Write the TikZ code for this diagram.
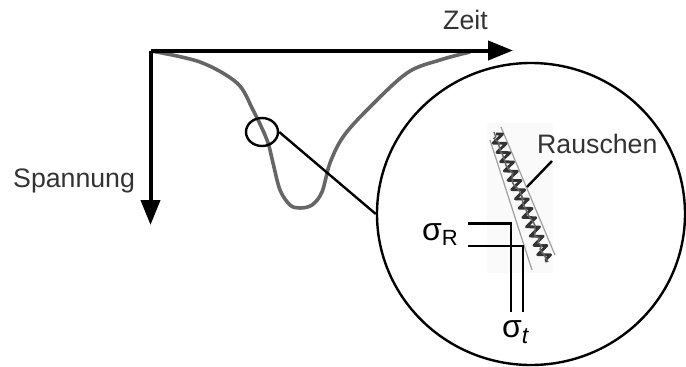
\documentclass[tikz,border=0pt]{standalone}
\usepackage{fontspec}
\setmainfont{Liberation Sans}
\usetikzlibrary{arrows.meta,shapes.geometric,decorations.pathmorphing}
\definecolor{txt}{HTML}{333333}
\definecolor{curvegray}{HTML}{666666}
\tikzset{
  axis/.style={line width=4pt,-{Triangle[length=25pt,width=19pt]}},
  lbl/.style={inner sep=0pt,anchor=base west,text=txt,font=\fontsize{26.7}{30}\selectfont},
  sig/.style={inner sep=0pt,anchor=base west,text=black},
  thin/.style={line width=2.4pt},
}
\begin{document}
\begin{tikzpicture}[x=1pt,y=-1pt]
\useasboundingbox (0,0) rectangle (686,367);
% axes
\coordinate (o) at (150.5,50.5);
\coordinate (xend) at (513,50.5);
\coordinate (yend) at (150.5,225);
% curve
\draw[curvegray,line width=3.6pt,line join=round] plot[smooth,tension=0.55] coordinates
 {(151,51) (200,62) (237,83) (253,110) (267,140) (273,163) (280,190) (290,205) (300,208) (312,205) (322,192) (330,163) (343,137) (367,110) (407,73) (440,60) (470,52)};
\draw[axis] (o) -- (xend);
\draw[axis] (o) -- (yend);
\node[lbl] (zeit) at (443,29) {Zeit};
\node[lbl] (spannung) at (13,187) {Spannung};
% lens and magnified view
\node[draw,thin,ellipse,minimum width=32pt,minimum height=28pt,inner sep=0pt] (lens) at (262,132) {};
\node[draw,thin,ellipse,minimum width=308pt,minimum height=302pt,inner sep=0pt] (zoom) at (531,214) {};
\draw[thin] (lens.east) -- (zoom.west);
% noise strip
\fill[black!2] (487,123) rectangle (553,273);
\draw[gray!75,line width=1.2pt] (490,140) -- (532,270);
\draw[gray!75,line width=1.2pt] (501,127) -- (555,255);
\draw[black!80,line width=2.8pt,line join=round,decorate,decoration={zigzag,segment length=10pt,amplitude=6pt}] (496,134) -- (547,262);
\draw[black!60,line width=1.4pt,decorate,decoration={random steps,segment length=4pt,amplitude=2.5pt}] (494,132) -- (548,262);
\node[lbl] (rauschen) at (537,153) {Rauschen};
\coordinate (rp) at (527,187);
\draw[thin] (552,161) -- (rp);
% sigma markers
\coordinate (a1) at (468,223.5);
\coordinate (a2) at (511,223.5);
\coordinate (a3) at (511,312);
\coordinate (b1) at (468,246);
\coordinate (b2) at (523,246);
\coordinate (b3) at (523,312);
\draw[thin] (a1) -- (a2) -- (a3);
\draw[thin] (b1) -- (b2) -- (b3);
\node[sig] (sigR) at (422,240) {{\fontsize{32}{32}\selectfont σ}\raisebox{-5pt}{\fontsize{22}{22}\selectfont R}};
\node[sig] (sigt) at (502,337) {{\fontsize{32}{32}\selectfont σ}\raisebox{-6pt}{\fontsize{23}{23}\selectfont\itshape t}};
\end{tikzpicture}
\end{document}
